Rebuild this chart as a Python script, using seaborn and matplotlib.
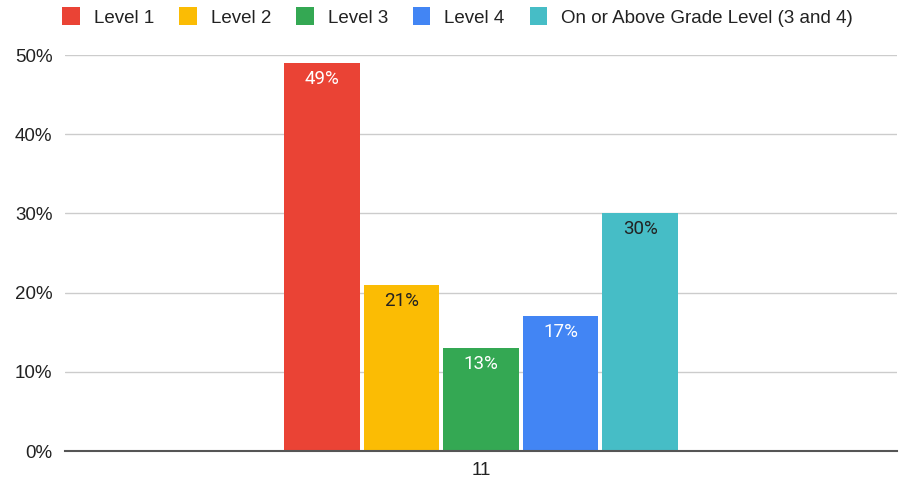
import matplotlib
matplotlib.use("Agg")
import matplotlib.pyplot as plt
import seaborn as sns
import pandas as pd
from matplotlib.patches import Patch

categories = ["11"]
levels = ["Level 1", "Level 2", "Level 3", "Level 4", "On or Above Grade Level (3 and 4)"]
values = [0.49, 0.21, 0.13, 0.17, 0.30]
labels = ["49%", "21%", "13%", "17%", "30%"]
colors = ["#EA4335", "#FBBC04", "#34A853", "#4285F4", "#46BDC6"]
label_colors = ["white", "#222222", "white", "white", "#222222"]
yticks = [0, 0.1, 0.2, 0.3, 0.4, 0.5]
ytick_labels = ["0%", "10%", "20%", "30%", "40%", "50%"]

df = pd.DataFrame({"grade": categories * len(levels), "level": levels, "value": values})

sns.set_theme(style="white")
plt.rcParams["font.family"] = ["Liberation Sans", "DejaVu Sans"]

fig = plt.figure(figsize=(9.04, 4.78), dpi=100)
ax = fig.add_axes([65 / 904, 1 - 451 / 478, (897 - 65) / 904, (451 - 55) / 478])

sns.barplot(data=df, x="grade", y="value", hue="level", hue_order=levels,
            palette=colors, width=0.478, gap=0.05, ax=ax, legend=False,
            saturation=1, edgecolor="none")

ax.set_xlim(-0.5, 0.5)
ax.set_ylim(0, 0.5)
ax.set_yticks(yticks)
ax.set_yticklabels(ytick_labels)
ax.yaxis.grid(True, color="#cccccc", linewidth=1)
ax.set_axisbelow(True)
for s in ["top", "right", "left"]:
    ax.spines[s].set_visible(False)
ax.spines["bottom"].set_color("#555555")
ax.spines["bottom"].set_linewidth(1.5)
ax.tick_params(axis="both", length=0, labelsize=13.5, colors="#222222")
ax.tick_params(axis="y", pad=9)
ax.tick_params(axis="x", pad=8)
ax.set_xlabel("")
ax.set_ylabel("")

for cont, lab, lc in zip(ax.containers, labels, label_colors):
    ax.bar_label(cont, labels=[lab], label_type="edge", padding=-18,
                 color=lc, fontsize=13.5, family=["Roboto", "DejaVu Sans"])

handles = [Patch(facecolor=c, edgecolor="none") for c in colors]
fig.legend(handles, levels, loc="center", bbox_to_anchor=(457.5 / 904, 1 - 17 / 478),
           ncol=5, frameon=False, fontsize=13.5, handlelength=0.95, handleheight=1.05,
           handletextpad=0.75, columnspacing=1.32, labelcolor="#222222")

fig.savefig("out.png", dpi=100)
